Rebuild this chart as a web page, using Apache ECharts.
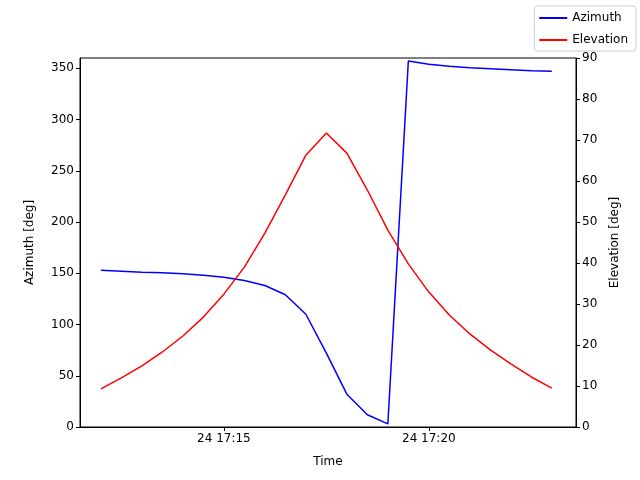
<!DOCTYPE html>
<html><head><meta charset="utf-8">
<script src="https://cdn.jsdelivr.net/npm/echarts@6/dist/echarts.min.js"></script>
<style>html,body{margin:0;padding:0;background:#fff}#c{width:640px;height:480px}</style>
</head><body><div id="c"></div>
<script>
const times = ["17:12:00","17:12:30","17:13:00","17:13:30","17:14:00","17:14:30","17:15:00","17:15:30","17:16:00","17:16:30","17:17:00","17:17:30","17:18:00","17:18:30","17:19:00","17:19:30","17:20:00","17:20:30","17:21:00","17:21:30","17:22:00","17:22:30","17:23:00"];
const azimuth = [153,152,151,150.5,149.5,148,146,143,138,129,110,72,32,12,3,357,354,352,350.5,349.5,348.5,347.5,347];
const elevation = [9.3,12,14.9,18.3,22.2,26.8,32.4,39,47.3,56.6,66.3,71.7,66.8,57.8,48,39.8,32.9,27.3,22.7,18.8,15.4,12.2,9.5];
const xTicks = [15,20];
function toMin(t){const p=t.split(':').map(Number);return p[1]+p[2]/60;}
const ch = echarts.init(document.getElementById('c'));
const font = {fontFamily:'DejaVu Sans',fontSize:12,color:'#000'};
ch.setOption({
  animation:false,
  grid:{left:80,right:64,top:58,bottom:53,show:true,borderColor:'#000',borderWidth:1},
  legend:{right:4,top:6,orient:'vertical',icon:'rect',itemWidth:28,itemHeight:2,itemGap:10,padding:[6,8,5,5],
    borderColor:'#ccc',borderWidth:1,borderRadius:3,textStyle:{...font,fontSize:12}},
  xAxis:{type:'value',min:11.49,max:23.59,name:'Time',nameLocation:'middle',nameGap:29,nameTextStyle:font,
    splitLine:{show:false},axisLine:{lineStyle:{color:'#000'}},
    axisTick:{customValues:xTicks,lineStyle:{color:'#000'},length:4},
    axisLabel:{...font,margin:6,customValues:xTicks,formatter:v=>'24 17:'+String(Math.round(v)).padStart(2,'0')}},
  yAxis:[
    {type:'value',min:0,max:360,interval:50,name:'Azimuth [deg]',nameLocation:'middle',nameGap:44,nameTextStyle:font,
     splitLine:{show:false},axisLine:{show:true,lineStyle:{color:'#000'}},axisTick:{show:true,length:4},axisLabel:{...font,margin:6,showMaxLabel:false}},
    {type:'value',min:0,max:90,interval:10,name:'Elevation [deg]',nameLocation:'middle',nameGap:33,nameTextStyle:font,
     splitLine:{show:false},axisLine:{show:true,lineStyle:{color:'#000'}},axisTick:{show:true,length:4},axisLabel:{...font,margin:6}}
  ],
  series:[
    {name:'Azimuth',type:'line',yAxisIndex:0,symbol:'none',lineStyle:{color:'#0000ff',width:1.5},itemStyle:{color:'#0000ff'},
     data:times.map((t,i)=>[toMin(t),azimuth[i]])},
    {name:'Elevation',type:'line',yAxisIndex:1,symbol:'none',lineStyle:{color:'#ff0000',width:1.5},itemStyle:{color:'#ff0000'},
     data:times.map((t,i)=>[toMin(t),elevation[i]])}
  ]
});
</script></body></html>
